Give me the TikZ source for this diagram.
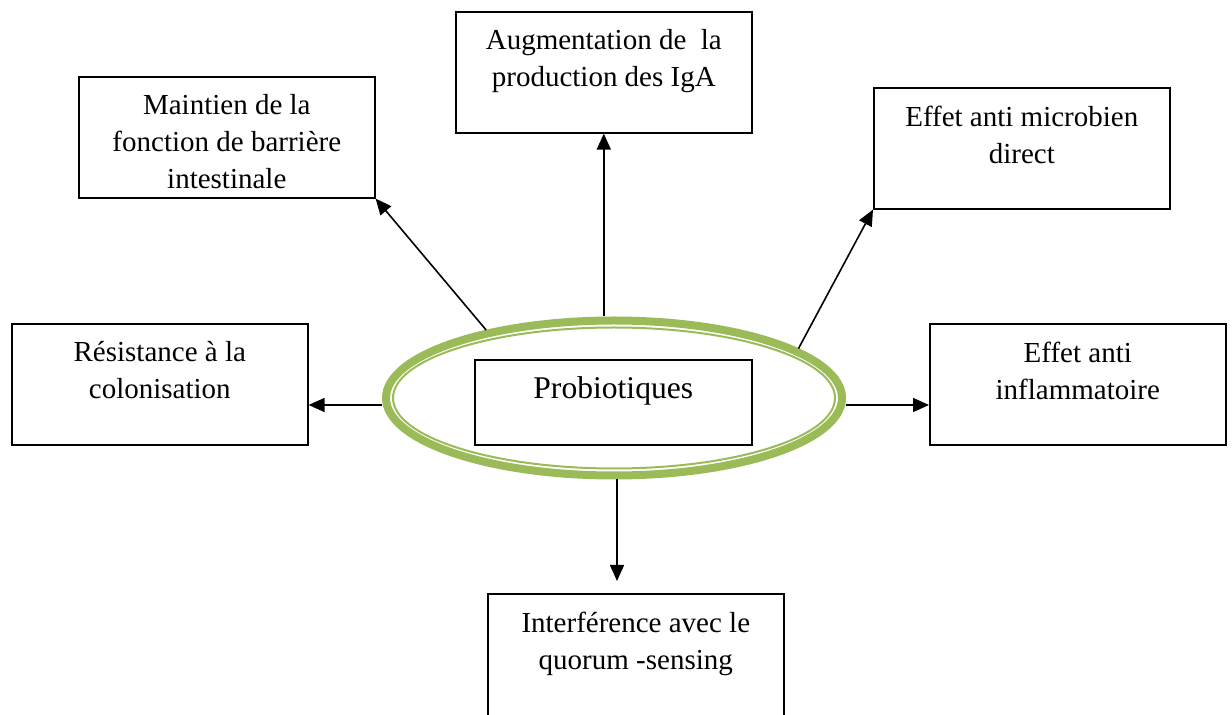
\documentclass[tikz,border=0pt]{standalone}
\usepackage{fontspec}
\setmainfont{Liberation Serif}
\usetikzlibrary{shapes.geometric,arrows.meta}
\definecolor{probgreen}{HTML}{9BBB59}

\begin{document}
\begin{tikzpicture}[x=0.5pt,y=-0.5pt,
    box/.style={draw,line width=0.8pt,minimum width=148pt,minimum height=60.5pt,inner sep=0pt,anchor=north west},
    txt/.style={anchor=north,align=center,inner sep=0pt,yshift=-9.2pt,font=\fontsize{14.5}{18.5}\selectfont,execute at begin node=\strut},
    arr/.style={-{Triangle[length=8pt,width=7pt]},line width=0.8pt}]
      % \draw[help lines] (0,0) grid (1232,715);
      \clip (0,0) rectangle (1232,715);

      \node[draw=probgreen,line width=4pt,ellipse,minimum width=228pt,minimum height=77.5pt,inner sep=0pt] (ell) at (614,398) {};
      \draw[probgreen,line width=1pt] (ell.center) ellipse (110.5pt and 35.25pt);
      \node[box,minimum width=138.5pt,minimum height=42.5pt,
            label={[anchor=base,yshift=-20pt,inner sep=0pt,font=\fontsize{15.8}{19}\selectfont]north:Probiotiques}] (prob) at (474,359) {};

      \node[box,label={[txt]north:Maintien de la\\fonction de barrière\\intestinale}] (barr) at (78,76) {};
      \node[box,label={[txt]north:Augmentation de\ \ la\\production des IgA}] (iga) at (455,11) {};
      \node[box,label={[txt]north:Effet anti microbien\\direct}] (micro) at (873,87) {};
      \node[box,label={[txt]north:Résistance à la\\colonisation}] (resist) at (11,323) {};
      \node[box,label={[txt]north:Effet anti\\inflammatoire}] (inflam) at (929,323) {};
      \node[box,minimum height=70pt,label={[txt]north:Interférence avec le\\quorum -sensing}] (quorum) at (487,593) {};

      \draw[arr] (ell.152) -- (barr.south east);
      \draw[arr] (iga.south |- ell.north) -- (iga.south);
      \draw[arr] (ell.15) -- (micro.south west);
      \draw[arr] ([yshift=-3.5pt]ell.west) -- ([yshift=-3.5pt]ell.west -| resist.east);
      \draw[arr] ([yshift=-3.5pt]ell.east) -- ([yshift=-3.5pt]ell.east -| inflam.west);
      \draw[arr] ([xshift=1.5pt]ell.south) -- ([xshift=1.5pt,yshift=6pt]ell.south |- quorum.north);
\end{tikzpicture}
\end{document}
